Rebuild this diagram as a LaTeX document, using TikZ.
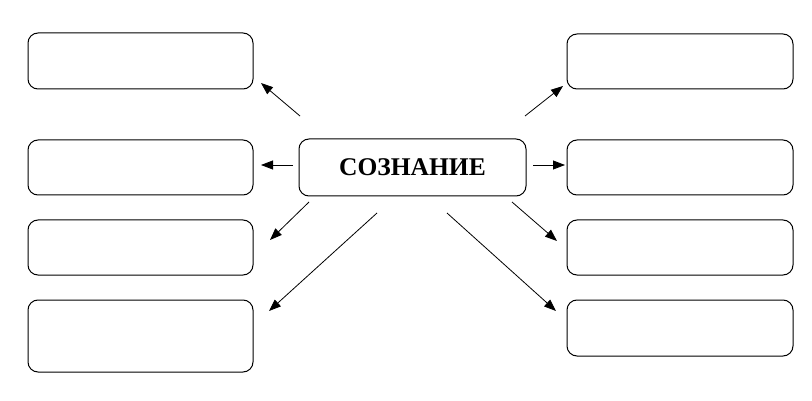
\documentclass[tikz,border=0pt]{standalone}
\usepackage{fontspec}
\setmainfont{Liberation Serif}
\usetikzlibrary{arrows.meta}

\tikzset{
    emptybox/.style={draw, line width=1pt, rounded corners=10pt, minimum width=225pt},
    arrowline/.style={line width=0.8pt, -{Triangle[length=12pt,width=9pt]}}
}

\begin{document}
\begin{tikzpicture}[x=1pt, y=-1pt]
    % Page frame
    \useasboundingbox (0,0) rectangle (812,401);

    % Central box
    \node[emptybox, minimum width=227pt, minimum height=57pt, font=\fontsize{25.5}{29}\selectfont\bfseries] (core) at (412.5,167.5) {СОЗНАНИЕ};

    % Left column
    \node[emptybox, minimum height=56pt] (left1) at (140.5,61) {};
    \node[emptybox, minimum height=55pt] (left2) at (140.5,167.5) {};
    \node[emptybox, minimum height=55pt] (left3) at (140.5,247.5) {};
    \node[emptybox, minimum height=72pt] (left4) at (140.5,336) {};

    % Right column
    \node[emptybox, minimum width=226pt, minimum height=55pt] (right1) at (680,61.5) {};
    \node[emptybox, minimum width=226pt, minimum height=55pt] (right2) at (680,167.5) {};
    \node[emptybox, minimum width=226pt, minimum height=55pt] (right3) at (680,247.5) {};
    \node[emptybox, minimum width=226pt, minimum height=56pt] (right4) at (680,328) {};

    % Arrow ends
    \coordinate (fromL1) at (300,116);   \coordinate (toL1) at (261,83);
    \coordinate (fromL2) at (293,165);   \coordinate (toL2) at (261,165);
    \coordinate (fromL3) at (309,202);   \coordinate (toL3) at (270,240);
    \coordinate (fromL4) at (377,213);   \coordinate (toL4) at (269,311);
    \coordinate (fromR1) at (525,116);   \coordinate (toR1) at (563,86);
    \coordinate (fromR2) at (533,165);   \coordinate (toR2) at (565,165);
    \coordinate (fromR3) at (512,202);   \coordinate (toR3) at (557,241);
    \coordinate (fromR4) at (447,213);   \coordinate (toR4) at (556,311);

    % Arrows
    \foreach \k in {L1,L2,L3,L4,R1,R2,R3,R4}
        \draw[arrowline] (from\k) -- (to\k);
\end{tikzpicture}
\end{document}
